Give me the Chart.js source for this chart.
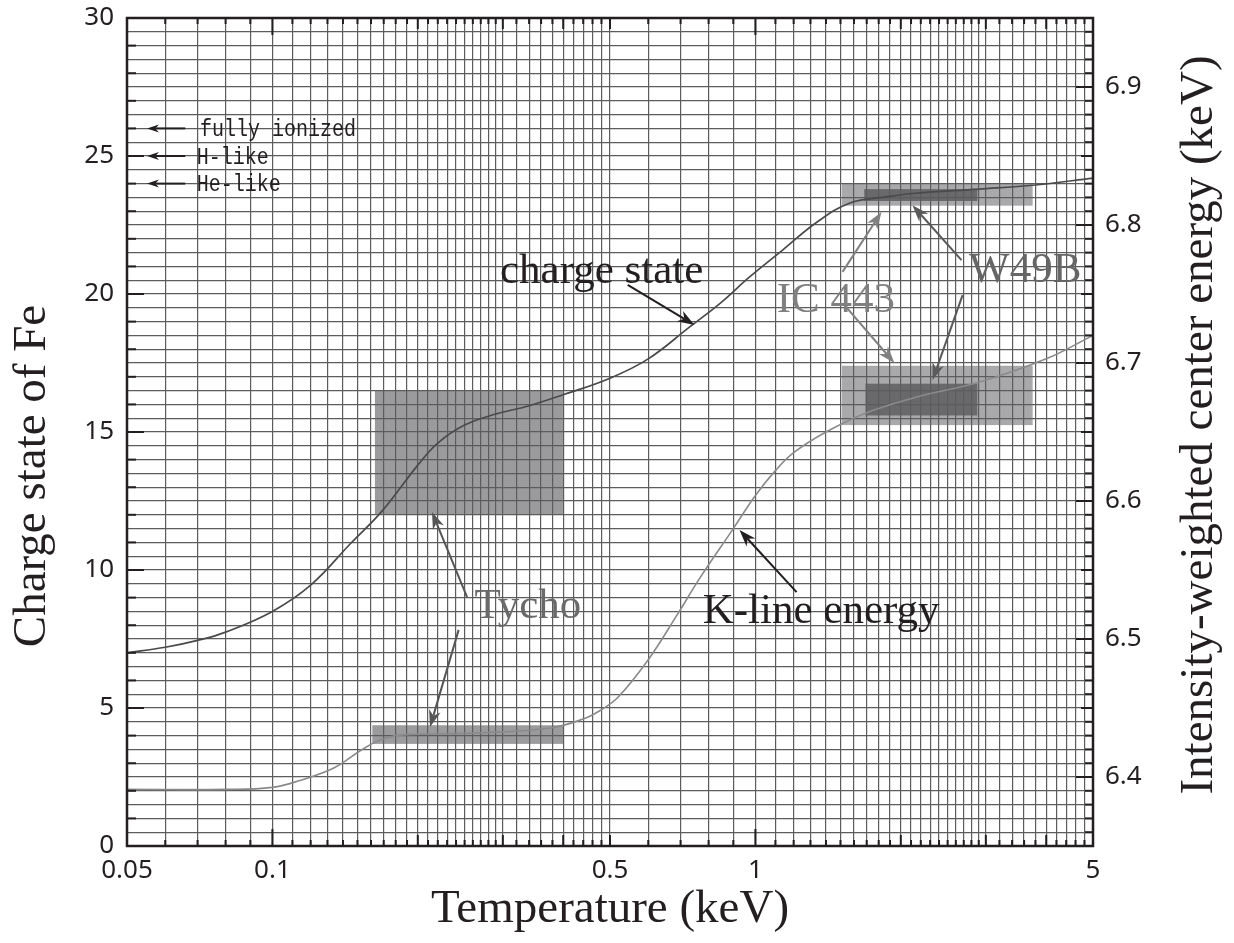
<!DOCTYPE html>
<html>
<head>
<meta charset="utf-8">
<script src="https://cdn.jsdelivr.net/npm/chart.js@4.4.1/dist/chart.umd.min.js"></script>
<style>
  html, body { margin: 0; padding: 0; background: #fff; }
  #wrap { width: 1234px; height: 943px; position: relative; }
</style>
</head>
<body>
<div id="wrap"><canvas id="chart"></canvas></div>
<script>
// Fe charge state vs temperature (left axis)
const chargeTemp  = [0.05, 0.06, 0.07, 0.08, 0.1, 0.12, 0.145, 0.169, 0.2, 0.22, 0.25, 0.29, 0.34, 0.4, 0.5, 0.6, 0.73, 0.85, 0.97, 1.14, 1.34, 1.57, 1.83, 2.14, 2.9, 3.8, 5.0];
const chargeState = [7.0, 7.2, 7.45, 7.75, 8.5, 9.45, 10.95, 12.15, 13.8, 14.6, 15.25, 15.65, 15.95, 16.35, 16.95, 17.65, 18.8, 19.7, 20.6, 21.6, 22.6, 23.3, 23.5, 23.65, 23.8, 23.95, 24.2];

// K-line centre energy vs temperature (right axis, keV)
const kTemp   = [0.05, 0.08, 0.1, 0.114, 0.134, 0.152, 0.165, 0.18, 0.2, 0.27, 0.376, 0.44, 0.476, 0.52, 0.6, 0.69, 0.77, 0.9, 1.0, 1.1, 1.2, 1.4, 1.7, 2.14, 2.9, 4.0, 5.0];
const kEnergy = [6.391, 6.391, 6.3925, 6.3975, 6.4065, 6.419, 6.426, 6.43, 6.431, 6.432, 6.4355, 6.442, 6.448, 6.458, 6.485, 6.518, 6.545, 6.58, 6.604, 6.622, 6.635, 6.65, 6.664, 6.675, 6.686, 6.703, 6.72];

// observed ranges (boxes)
const boxName = ['Tycho', 'Tycho', 'IC 443', 'W49B', 'IC 443', 'W49B'];
const boxAxis = ['y', 'y1', 'y', 'y', 'y1', 'y1'];
const boxT0   = [0.163, 0.161, 1.51, 1.68, 1.51, 1.69];
const boxT1   = [0.40, 0.40, 3.75, 2.88, 3.75, 2.88];
const boxLo   = [12.0, 6.424, 23.2, 23.37, 6.655, 6.662];
const boxHi   = [16.5, 6.4375, 24.0, 23.8, 6.698, 6.685];

// tick labels
const xLabelTicks  = [0.05, 0.1, 0.5, 1, 5];
const yLabelTicks  = [0, 5, 10, 15, 20, 25, 30];
const y1LabelTicks = [6.4, 6.5, 6.6, 6.7, 6.8, 6.9];

function range(a, b, step) {
    const out = [];
    for (let v = a; v <= b + step / 2; v += step) out.push(Math.round(v * 1000) / 1000);
    return out;
}

// grid positions of the log temperature axis
const xGridTicks = [...new Set([
    ...range(0.05, 0.3, 0.01),
    ...range(0.3, 0.5, 0.02),
    ...range(0.5, 1.0, 0.1),
    ...range(1.0, 3.0, 0.1),
    ...range(3.0, 5.0, 0.2)
])];
const yGridTicks = range(0, 30, 0.5);

const boxColors = { 'Tycho': '#9b9b9e', 'IC 443': '#a9a9ac', 'W49B': '#69696c' };
const ink = '#231f20';
const gridColor = '#5c5c5c';

// annotations in data coordinates (temperature, charge state)
const arrows = [
    { from: [0.066, 26], to: [0.055, 26], color: ink, head: 12, half: 4 },
    { from: [0.066, 25], to: [0.055, 25], color: ink, head: 12, half: 4 },
    { from: [0.066, 24], to: [0.055, 24], color: ink, head: 12, half: 4 },
    { from: [0.544, 20.33], to: [0.748, 18.88], color: ink },
    { from: [0.253, 9.02], to: [0.214, 12.1], color: '#555' },
    { from: [0.243, 7.83], to: [0.212, 4.31], color: '#555' },
    { from: [1.217, 9.2], to: [0.927, 11.45], color: ink },
    { from: [1.515, 20.8], to: [1.824, 22.97], color: '#808080' },
    { from: [1.529, 19.6], to: [1.94, 17.5], color: '#808080' },
    { from: [2.671, 21.23], to: [2.114, 23.22], color: '#5a5a5a' },
    { from: [2.685, 19.96], to: [2.327, 16.88], color: '#5a5a5a' }
];
const serif = '43px "Liberation Serif", serif';
const mono = '23px "Liberation Mono", monospace';
const labels = [
    { text: 'charge state', at: [0.296, 20.4], color: ink, font: serif },
    { text: 'Tycho', at: [0.262, 8.26], color: '#6a6a6a', font: serif },
    { text: 'K-line energy', at: [0.778, 8.08], color: ink, font: serif },
    { text: 'IC 443', at: [1.107, 19.35], color: '#808080', font: serif },
    { text: 'W49B', at: [2.77, 20.43], color: '#666', font: serif },
    { text: 'fully ionized', at: [0.0708, 25.72], color: ink, font: mono, squeeze: 0.87 },
    { text: 'H-like', at: [0.0697, 24.72], color: ink, font: mono, squeeze: 0.87 },
    { text: 'He-like', at: [0.0697, 23.72], color: ink, font: mono, squeeze: 0.87 }
];

function near(list, v) {
    return list.some(t => Math.abs(t - v) < 1e-6);
}

function drawArrow(ctx, x0, y0, x1, y1, color, head, half) {
    const ang = Math.atan2(y1 - y0, x1 - x0);
    const c = Math.cos(ang), s = Math.sin(ang);
    ctx.strokeStyle = color;
    ctx.fillStyle = color;
    ctx.lineWidth = 2;
    ctx.beginPath();
    ctx.moveTo(x0, y0);
    ctx.lineTo(x1 - c * head * 0.7, y1 - s * head * 0.7);
    ctx.stroke();
    ctx.beginPath();
    ctx.moveTo(x1, y1);
    ctx.lineTo(x1 - head * c + half * s, y1 - head * s - half * c);
    ctx.lineTo(x1 - head * 0.7 * c, y1 - head * 0.7 * s);
    ctx.lineTo(x1 - head * c - half * s, y1 - head * s + half * c);
    ctx.closePath();
    ctx.fill();
}

const decorPlugin = {
    id: 'decor',
    beforeDraw(chart) {
        const { ctx, scales } = chart;
        const x = scales.x;
        ctx.save();
        ctx.fillStyle = '#fff';
        ctx.fillRect(0, 0, chart.width, chart.height);
        // boxes sit under the grid
        boxName.forEach((name, i) => {
            const ys = scales[boxAxis[i]];
            const left = x.getPixelForValue(boxT0[i]);
            const right = x.getPixelForValue(boxT1[i]);
            const top = ys.getPixelForValue(boxHi[i]);
            const bottom = ys.getPixelForValue(boxLo[i]);
            ctx.fillStyle = boxColors[name];
            ctx.fillRect(left, top, right - left, bottom - top);
        });
        ctx.restore();
    },
    afterDatasetsDraw(chart) {
        const { ctx, scales: { x, y } } = chart;
        ctx.save();
        arrows.forEach(a => {
            drawArrow(ctx,
                x.getPixelForValue(a.from[0]), y.getPixelForValue(a.from[1]),
                x.getPixelForValue(a.to[0]), y.getPixelForValue(a.to[1]),
                a.color, a.head || 17, a.half || 6);
        });
        labels.forEach(l => {
            ctx.save();
            ctx.font = l.font;
            ctx.fillStyle = l.color;
            ctx.textAlign = 'left';
            ctx.textBaseline = 'alphabetic';
            ctx.translate(x.getPixelForValue(l.at[0]), y.getPixelForValue(l.at[1]));
            if (l.squeeze) ctx.scale(l.squeeze, 1);
            ctx.fillText(l.text, 0, 0);
            ctx.restore();
        });
        ctx.restore();
    },
    afterDraw(chart) {
        const { ctx, chartArea: a, scales: { x, y, y1 } } = chart;
        ctx.save();
        ctx.strokeStyle = ink;
        ctx.lineWidth = 2;
        // inward tick marks, bottom and top
        xGridTicks.forEach(v => {
            const px = x.getPixelForValue(v);
            let len = 6;
            if (v === 0.1 || v === 1) len = 17;
            else if ([0.2, 0.3, 0.4, 0.5, 2, 3, 4].includes(v)) len = 11;
            ctx.beginPath();
            ctx.moveTo(px, a.bottom); ctx.lineTo(px, a.bottom - len);
            ctx.moveTo(px, a.top); ctx.lineTo(px, a.top + len);
            ctx.stroke();
        });
        // left ticks every unit
        for (let v = 0; v <= 30; v++) {
            const py = y.getPixelForValue(v);
            const len = v % 5 === 0 ? 17 : 9;
            ctx.beginPath();
            ctx.moveTo(a.left, py); ctx.lineTo(a.left + len, py);
            ctx.stroke();
        }
        // right ticks every 0.01 keV
        for (let k = 635; k <= 695; k++) {
            const py = y1.getPixelForValue(k / 100);
            const len = k % 10 === 0 ? 17 : (k % 5 === 0 ? 12 : 8);
            ctx.beginPath();
            ctx.moveTo(a.right, py); ctx.lineTo(a.right - len, py);
            ctx.stroke();
        }
        // frame
        ctx.lineWidth = 2.5;
        ctx.strokeRect(a.left, a.top, a.right - a.left, a.bottom - a.top);

        // axis titles
        ctx.fillStyle = ink;
        ctx.font = '47px "Liberation Serif", serif';
        ctx.textAlign = 'center';
        ctx.textBaseline = 'middle';
        ctx.fillText('Temperature (keV)', 610, 910);
        ctx.save();
        ctx.translate(33, 476);
        ctx.rotate(-Math.PI / 2);
        ctx.fillText('Charge state of Fe', 0, 0);
        ctx.restore();
        ctx.save();
        ctx.translate(1200, 425);
        ctx.rotate(-Math.PI / 2);
        ctx.fillText('Intensity-weighted center energy (keV)', 0, 0);
        ctx.restore();
        ctx.restore();
    }
};

const tickFont = { family: '"Noto Sans", sans-serif', size: 26 };

function noPadX(s) { s.height = 97; s.paddingLeft = 0; s.paddingRight = 0; }
function noPadY(w) { return s => { s.width = w; s.paddingTop = 0; s.paddingBottom = 0; }; }

new Chart(document.getElementById('chart'), {
    type: 'scatter',
    data: {
        datasets: [
            {
                label: 'charge state',
                data: chargeTemp.map((t, i) => ({ x: t, y: chargeState[i] })),
                yAxisID: 'y',
                showLine: true,
                borderColor: '#4a4a4c',
                borderWidth: 1.7,
                pointRadius: 0,
                tension: 0.4
            },
            {
                label: 'K-line energy',
                data: kTemp.map((t, i) => ({ x: t, y: kEnergy[i] })),
                yAxisID: 'y1',
                showLine: true,
                borderColor: '#8a8a8c',
                borderWidth: 1.6,
                pointRadius: 0,
                tension: 0.4
            }
        ]
    },
    options: {
        responsive: true,
        maintainAspectRatio: false,
        animation: false,
        layout: { padding: { top: 18, left: 0, right: 0, bottom: 0 } },
        plugins: {
            legend: { display: false },
            tooltip: { enabled: false }
        },
        scales: {
            x: {
                type: 'logarithmic',
                min: 0.05,
                max: 5,
                afterBuildTicks: s => { s.ticks = xGridTicks.map(v => ({ value: v })); },
                afterFit: noPadX,
                grid: { color: gridColor, lineWidth: 1.2, drawTicks: false },
                border: { display: false },
                ticks: {
                    autoSkip: false,
                    maxRotation: 0,
                    padding: 9,
                    color: ink,
                    font: tickFont,
                    callback: v => near(xLabelTicks, v) ? String(v) : ''
                }
            },
            y: {
                type: 'linear',
                position: 'left',
                min: 0,
                max: 30,
                afterBuildTicks: s => { s.ticks = yGridTicks.map(v => ({ value: v })); },
                afterFit: noPadY(127),
                grid: { color: gridColor, lineWidth: 1.2, drawTicks: false },
                border: { display: false },
                ticks: {
                    autoSkip: false,
                    padding: 13,
                    color: ink,
                    font: tickFont,
                    callback: v => near(yLabelTicks, v) ? String(v) : ''
                }
            },
            y1: {
                type: 'linear',
                position: 'right',
                min: 6.35,
                max: 6.95,
                afterBuildTicks: s => { s.ticks = y1LabelTicks.map(v => ({ value: v })); },
                afterFit: noPadY(141),
                grid: { display: false, drawTicks: false },
                border: { display: false },
                ticks: {
                    autoSkip: false,
                    padding: 12,
                    color: ink,
                    font: tickFont,
                    callback: v => v.toFixed(1)
                }
            }
        }
    },
    plugins: [decorPlugin]
});
</script>
</body>
</html>
